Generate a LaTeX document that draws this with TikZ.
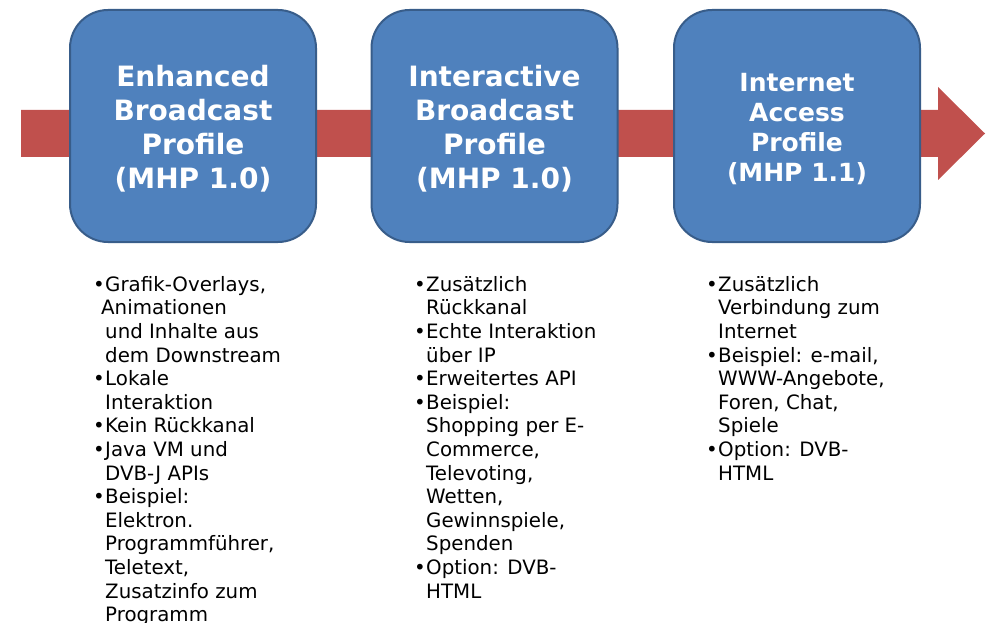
\documentclass[tikz,border=0pt]{standalone}
\usepackage{fontspec}
\setmainfont{DejaVu Sans}
\definecolor{boxfill}{HTML}{4F81BD}
\definecolor{boxline}{HTML}{385D8A}
\definecolor{arrowred}{HTML}{C0504D}
\newcommand{\bl}{\makebox[12pt][l]{•}}
\newcommand{\ct}{\hspace*{12pt}}
\tikzset{
  profile/.style={draw=boxline, line width=2pt, fill=boxfill, rounded corners=38pt,
    minimum width=246pt, minimum height=232pt, inner sep=0pt, align=center,
    text=white, font=\fontsize{28}{34}\selectfont\bfseries},
  smallprofile/.style={profile, font=\fontsize{25}{30}\selectfont\bfseries},
  bullets/.style={anchor=north west, inner sep=0pt, align=left, text=black,
    font=\fontsize{19.8}{23.6}\selectfont}
}
\begin{document}
\begin{tikzpicture}[x=1pt,y=-1pt]
\useasboundingbox (0,0) rectangle (986,623);
% arrow
\coordinate (astart) at (21,133.5);
\coordinate (atip) at (985,133.5);
\fill[arrowred] (21,110) -- (938,110) -- (938,87) -- (atip) -- (938,180) -- (938,157) -- (21,157) -- cycle;
% boxes
\node[profile] (p1) at (193,126) {\rule{0pt}{27pt}Enhanced\\Broadcast\\Profile\\(MHP 1.0)};
\node[profile] (p2) at (494.5,126) {\rule{0pt}{27pt}Interactive\\Broadcast\\Profile\\(MHP 1.0)};
\node[smallprofile] (p3) at (797,126) {\rule{0pt}{25pt}Internet\\Access\\Profile\\(MHP 1.1)};
% bullet lists
\node[bullets] (l1) at (93,274.5) {\strut\bl Grafik-Overlays,\\
\hspace*{8pt}Animationen\\
\ct und Inhalte aus\\
\ct dem Downstream\\
\bl Lokale\\
\ct Interaktion\\
\bl Kein Rückkanal\\
\bl Java VM und\\
\ct DVB-J APIs\\
\bl Beispiel:\\
\ct Elektron.\\
\ct Programmführer,\\
\ct Teletext,\\
\ct Zusatzinfo zum\\
\ct Programm};
\node[bullets] (l2) at (414,274.5) {\strut\bl Zusätzlich\\
\ct Rückkanal\\
\bl Echte Interaktion\\
\ct über IP\\
\bl Erweitertes API\\
\bl Beispiel:\\
\ct Shopping per E-\\
\ct Commerce,\\
\ct Televoting,\\
\ct Wetten,\\
\ct Gewinnspiele,\\
\ct Spenden\\
\bl Option: DVB-\\
\ct HTML};
\node[bullets] (l3) at (706,274.5) {\strut\bl Zusätzlich\\
\ct Verbindung zum\\
\ct Internet\\
\bl Beispiel: e-mail,\\
\ct WWW-Angebote,\\
\ct Foren, Chat,\\
\ct Spiele\\
\bl Option: DVB-\\
\ct HTML};
\end{tikzpicture}
\end{document}
